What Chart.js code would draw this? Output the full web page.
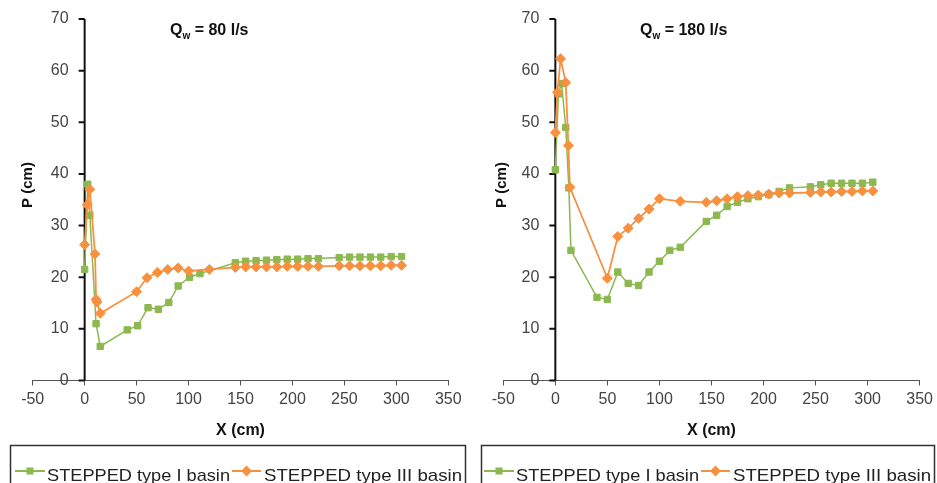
<!DOCTYPE html>
<html>
<head>
<meta charset="utf-8">
<script src="https://cdn.jsdelivr.net/npm/chart.js@4.4.1/dist/chart.umd.min.js"></script>
<style>
body{margin:0;background:#fff;width:937px;height:483px;overflow:hidden;position:relative}
.box{position:absolute;top:0;width:468px;height:483px}
</style>
</head>
<body>
<div class="box" style="left:0"><canvas id="left" width="468" height="483"></canvas></div>
<div class="box" style="left:469px"><canvas id="right" width="468" height="483"></canvas></div>
<script>
// tick values
var xTicks = [-50, 0, 50, 100, 150, 200, 250, 300, 350];
var yTicks = [0, 10, 20, 30, 40, 50, 60, 70];
var seriesNames = ['STEPPED type I basin', 'STEPPED type III basin'];

// Qw = 80 l/s
var xLeftI = [0, 3, 5, 11, 15, 41, 51, 61, 71, 81, 90, 101, 111, 145, 155, 165, 175, 185, 195, 205, 215, 225, 245, 255, 265, 275, 285, 295, 305];
var pLeftI = [21.5, 38, 32, 11, 6.6, 9.8, 10.6, 14.1, 13.8, 15.1, 18.3, 20, 20.7, 22.8, 23.1, 23.2, 23.3, 23.4, 23.5, 23.5, 23.6, 23.6, 23.8, 23.9, 23.9, 23.9, 23.9, 24, 24];
var xLeftIII = [0, 2.5, 5, 10, 11, 12, 15, 50, 60, 70, 80, 90, 100, 120, 145, 155, 165, 175, 185, 195, 205, 215, 225, 245, 255, 265, 275, 285, 295, 305];
var pLeftIII = [26.3, 34, 37, 24.5, 15.7, 15.2, 13, 17.2, 19.9, 20.9, 21.5, 21.8, 21.2, 21.5, 21.9, 22, 22, 22, 22, 22.1, 22.1, 22.1, 22.1, 22.2, 22.2, 22.2, 22.2, 22.2, 22.3, 22.3];

// Qw = 180 l/s
var xRightI = [0, 3, 6, 10, 13, 15, 40, 50, 60, 70, 80, 90, 100, 110, 120, 145, 155, 165, 175, 185, 195, 205, 215, 225, 245, 255, 265, 275, 285, 295, 305];
var pRightI = [40.8, 55.5, 57.5, 49, 37.3, 25.2, 16.1, 15.7, 21, 18.8, 18.4, 21, 23.1, 25.2, 25.8, 30.8, 32, 33.7, 34.5, 35.2, 35.6, 36, 36.6, 37.3, 37.5, 37.9, 38.2, 38.2, 38.2, 38.2, 38.4];
var xRightIII = [0, 2, 5, 10, 12.5, 14, 50, 60, 70, 80, 90, 100, 120, 145, 155, 165, 175, 185, 195, 205, 215, 225, 245, 255, 265, 275, 285, 295, 305];
var pRightIII = [48, 55.8, 62.3, 57.7, 45.5, 37.4, 19.8, 27.9, 29.5, 31.4, 33.2, 35.2, 34.7, 34.5, 34.8, 35.2, 35.6, 35.8, 35.9, 36.1, 36.3, 36.3, 36.4, 36.5, 36.5, 36.6, 36.6, 36.7, 36.7];

var green = '#8cb84f', orange = '#f7913f';
var font = '"Liberation Sans", Arial, sans-serif';

function pts(xs, ys) {
  return xs.map(function (x, i) { return {x: x, y: ys[i]}; });
}

// y axis sits at x = 0, drawn by hand, plus title, y title and boxed legend
var extras = {
  id: 'extras',
  beforeDatasetsDraw: function (chart) {
    var ctx = chart.ctx, x = chart.scales.x, y = chart.scales.y;
    var x0 = x.getPixelForValue(0);
    ctx.save();
    ctx.strokeStyle = '#111';
    ctx.lineWidth = 2;
    ctx.beginPath();
    ctx.moveTo(x0, y.getPixelForValue(0));
    ctx.lineTo(x0, y.getPixelForValue(70));
    yTicks.forEach(function (t) {
      var py = y.getPixelForValue(t);
      ctx.moveTo(x0, py);
      ctx.lineTo(x0 - 6, py);
    });
    ctx.stroke();
    ctx.fillStyle = '#444';
    ctx.font = '16px ' + font;
    ctx.textAlign = 'right';
    ctx.textBaseline = 'middle';
    yTicks.forEach(function (t) {
      ctx.fillText(String(t), x0 - 16, y.getPixelForValue(t));
    });
    ctx.restore();
  },
  afterDraw: function (chart, args, opts) {
    var ctx = chart.ctx;
    ctx.save();
    // title  Qw = ...
    ctx.fillStyle = '#111';
    ctx.textAlign = 'left';
    ctx.textBaseline = 'alphabetic';
    ctx.font = 'bold 16px ' + font;
    var tx = opts.titleX;
    ctx.fillText('Q', tx, 35);
    tx += ctx.measureText('Q').width;
    ctx.font = 'bold 10px ' + font;
    ctx.fillText('w', tx, 39);
    tx += ctx.measureText('w').width;
    ctx.font = 'bold 16px ' + font;
    ctx.fillText(' = ' + opts.flow, tx, 35);

    // y title
    ctx.save();
    ctx.translate(opts.yTitleX, 185);
    ctx.rotate(-Math.PI / 2);
    ctx.textAlign = 'center';
    ctx.textBaseline = 'middle';
    ctx.font = 'bold 15px ' + font;
    ctx.fillText('P (cm)', 0, 0);
    ctx.restore();

    // legend box
    ctx.strokeStyle = '#333';
    ctx.lineWidth = 1.5;
    ctx.strokeRect(opts.boxX, 445.5, opts.boxW, 60);
    var marks = [[15, 45, 47, 183], [232, 261, 264, 198]];
    chart.data.datasets.forEach(function (ds, i) {
      var m = marks[i];
      ctx.strokeStyle = ds.borderColor;
      ctx.fillStyle = ds.backgroundColor;
      ctx.lineWidth = 2;
      ctx.beginPath();
      ctx.moveTo(m[0], 471);
      ctx.lineTo(m[1], 471);
      ctx.stroke();
      Chart.helpers.drawPoint(ctx, {pointStyle: ds.pointStyle, radius: ds.pointRadius * 0.8, rotation: 0, borderWidth: 1}, (m[0] + m[1]) / 2, 471);
      ctx.fillStyle = '#222';
      ctx.font = '17px ' + font;
      var w = ctx.measureText(ds.label).width;
      ctx.save();
      ctx.translate(m[2], 481);
      ctx.scale(m[3] / w, 1);
      ctx.fillText(ds.label, 0, 0);
      ctx.restore();
    });
    ctx.restore();
  }
};

function makeChart(id, xsI, psI, xsIII, psIII, pad, opts) {
  return new Chart(document.getElementById(id), {
    type: 'line',
    data: {
      datasets: [{
        label: seriesNames[0],
        data: pts(xsI, psI),
        borderColor: green,
        backgroundColor: green,
        borderWidth: 1.5,
        pointStyle: 'rect',
        pointRadius: 4.5,
        pointBorderWidth: 1,
        order: 1
      }, {
        label: seriesNames[1],
        data: pts(xsIII, psIII),
        borderColor: orange,
        backgroundColor: orange,
        borderWidth: 1.8,
        pointStyle: 'rectRot',
        pointRadius: 5,
        pointBorderWidth: 1,
        order: 0
      }]
    },
    options: {
      responsive: false,
      animation: false,
      layout: {padding: pad},
      plugins: {legend: {display: false}, tooltip: {enabled: false}, extras: opts},
      scales: {
        x: {
          type: 'linear',
          min: -50, max: 350,
          afterBuildTicks: function (s) { s.ticks = xTicks.map(function (v) { return {value: v}; }); },
          afterFit: function (s) { s.height = 59.5; },
          grid: {display: true, drawOnChartArea: false, tickLength: 5, color: '#555'},
          border: {display: true, color: '#555', width: 1},
          ticks: {color: '#444', font: {family: font, size: 16}, padding: 4, maxRotation: 0},
          title: {display: true, text: 'X (cm)', color: '#111', font: {family: font, size: 16, weight: 'bold'}, padding: 0}
        },
        y: {type: 'linear', min: 0, max: 70, display: false}
      }
    },
    plugins: [extras]
  });
}

makeChart('left', xLeftI, pLeftI, xLeftIII, pLeftIII,
  {left: 32.7, right: 19.7, top: 19, bottom: 43},
  {flow: '80 l/s', titleX: 170, yTitleX: 28, boxX: 10.5, boxW: 455});
makeChart('right', xRightI, pRightI, xRightIII, pRightIII,
  {left: 34.3, right: 17, top: 19, bottom: 43},
  {flow: '180 l/s', titleX: 171, yTitleX: 33, boxX: 12.5, boxW: 453});
</script>
</body>
</html>
